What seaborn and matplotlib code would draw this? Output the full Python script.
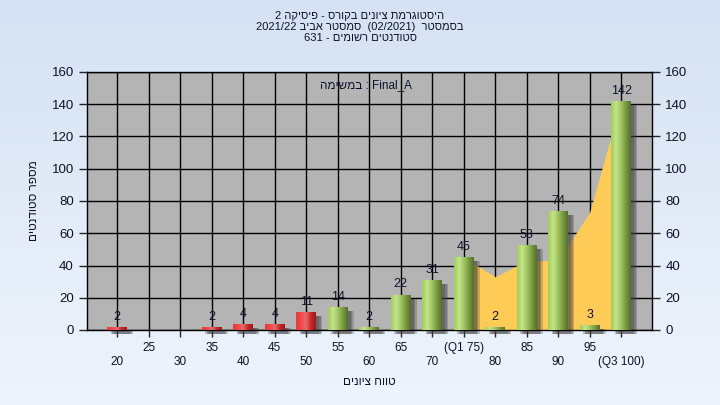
import re
import numpy as np
import matplotlib
matplotlib.use("Agg")
import matplotlib.pyplot as plt
from matplotlib.patches import Rectangle
from matplotlib.colors import LinearSegmentedColormap
import seaborn as sns

scores = [20, 25, 30, 35, 40, 45, 50, 55, 60, 65, 70, 75, 80, 85, 90, 95, 100]
counts = [2, 0, 0, 2, 4, 4, 11, 14, 2, 22, 31, 45, 2, 53, 74, 3, 142]
tick_labels = ['20', '25', '30', '35', '40', '45', '50', '55', '60', '65', '70',
               '(Q1 75)', '80', '85', '90', '95', '(Q3 100)']
area_scores = [75, 80, 85, 90, 95, 100]
area_values = [45, 33, 43, 43, 73, 142]
pass_mark = 55

title_lines = ['היסטוגרמת ציונים בקורס - פיסיקה 2',
               'בסמסטר  (02/2021)  סמסטר אביב 2021/22',
               'סטודנטים רשומים - 631']
task_name = 'Final_A'
y_title = 'מספר סטודנטים'
x_title = 'טווח ציונים'


def rtl(s):
    # matplotlib has no bidi: build the visual order by hand
    parts = re.findall(r'[A-Za-z0-9_/.]+|.', s)
    out = []
    for p in reversed(parts):
        p = {'(': ')', ')': '('}.get(p, p)
        out.append(p)
    return ''.join(out)


sns.set_style("white")
plt.rcParams['font.family'] = ['Liberation Sans', 'DejaVu Sans']
txt = '#10102a'

fig = plt.figure(figsize=(7.2, 4.05), dpi=100)

# background gradient
bg = fig.add_axes([0, 0, 1, 1], zorder=-10)
grad = np.linspace(0, 1, 256)[:, None]
bg_cmap = LinearSegmentedColormap.from_list('bg', ['#d5e2f3', '#eef4fc'])
bg.imshow(grad, aspect='auto', cmap=bg_cmap, extent=[0, 1, 0, 1])
bg.axis('off')

ax = fig.add_axes([87 / 720, 1 - 330 / 405, (652 - 87) / 720, (330 - 72) / 405])
ax.set_facecolor('#b4b4b4')

cols = ['#e03030' if s < pass_mark else '#9cc45a' for s in scores]
sns.barplot(x=scores, y=counts, hue=scores, palette=cols, width=0.62,
            legend=False, ax=ax, zorder=3, linewidth=0)

ax.set_xlim(-0.96, 16.98)
ax.set_ylim(0, 160)
ax.set_axisbelow(True)
ax.grid(True, color='black', lw=1)

# area (Q1 .. Q3)
apos = [scores.index(s) for s in area_scores]
ax.fill_between(apos, 0, area_values, color='#ffcb57', lw=0, zorder=1)

red_cmap = LinearSegmentedColormap.from_list(
    'r', ['#e83a3a', '#f04848', '#e86a6a', '#c82828', '#9a1818'])
green_cmap = LinearSegmentedColormap.from_list(
    'g', ['#a2cc58', '#c4e58c', '#a0c662', '#7a9a40', '#52702c'])
hgrad = np.linspace(0, 1, 64)[None, :]

for p, c, s in zip(ax.patches, counts, scores):
    if c == 0:
        continue
    x, w, h = p.get_x(), p.get_width(), p.get_height()
    # soft shadow
    for k, a in [(0.20, 0.25), (0.15, 0.3), (0.10, 0.3)]:
        ax.add_patch(Rectangle((x + k, -2.5), w, h, color='#3c3c3c', alpha=a,
                               lw=0, zorder=2, clip_on=False))
    cm = red_cmap if s < pass_mark else green_cmap
    im = ax.imshow(hgrad, cmap=cm, aspect='auto', extent=[x, x + w, 0, h],
                   zorder=4)
    im.set_clip_path(p)
    ax.text(x + w / 2, h + 2.5, str(c), ha='center', va='bottom',
            fontsize=9, color=txt, zorder=5)

ax.set_xlim(-0.96, 16.98)
ax.set_ylim(0, 160)

ax.set_xticks(range(len(scores)))
ax.set_xticklabels([('\n' + t) if i % 2 == 0 else t
                    for i, t in enumerate(tick_labels)], fontsize=8.5, color=txt)
ax.set_yticks(range(0, 161, 20))
ax.tick_params(axis='y', labelsize=9.5, labelcolor=txt, length=6, width=1,
               left=True, right=True, labelright=True, direction='out')
ax.tick_params(axis='x', length=5, width=1, bottom=True, direction='out')
for sp in ax.spines.values():
    sp.set_color('black')
    sp.set_linewidth(1)

ax.set_xlabel(rtl(x_title), fontsize=8.5, color=txt, labelpad=6)
ax.set_ylabel(rtl(y_title), fontsize=8.5, color=txt, labelpad=8)

ax.text(0.494, 0.95, rtl('במשימה') + ' : ' + task_name, transform=ax.transAxes,
        ha='center', va='center', fontsize=8.5, color=txt, zorder=6)

fig.text(0.5, 0.972, '\n'.join(rtl(t) for t in title_lines), ha='center',
         va='top', fontsize=8, color=txt, linespacing=1.1)

fig.savefig('out.png', dpi=100)
